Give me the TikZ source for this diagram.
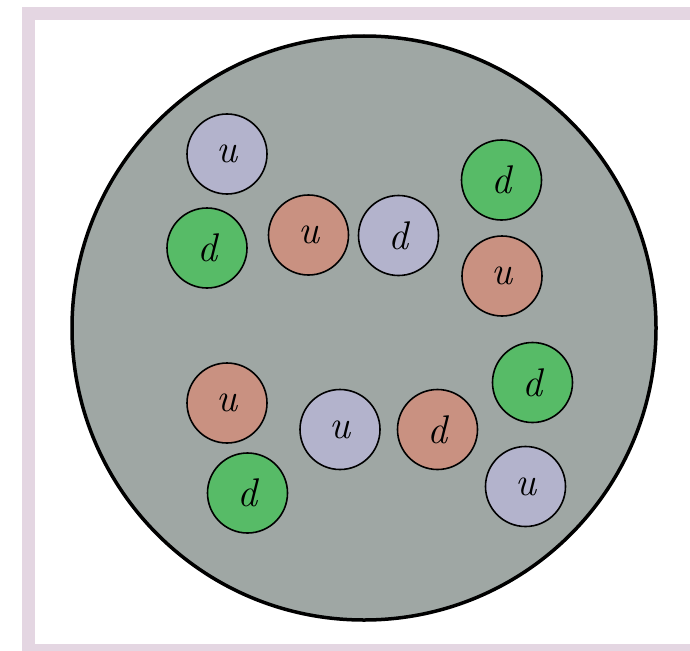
\documentclass[tikz,border=0pt]{standalone}
\usepackage{fontspec}
\definecolor{framepink}{HTML}{E4D6E2}
\definecolor{bggray}{HTML}{9FA7A4}
\definecolor{lav}{HTML}{B3B3CC}
\definecolor{grn}{HTML}{57BB67}
\definecolor{salmon}{HTML}{C99181}
\tikzset{
  quark/.style={circle, draw=black, line width=1.6pt, minimum size=80pt, inner sep=0pt,
    font=\fontsize{40}{40}\selectfont\itshape},
  qlav/.style={quark, fill=lav},
  qgrn/.style={quark, fill=grn},
  qred/.style={quark, fill=salmon},
}
\begin{document}
\begin{tikzpicture}[x=1pt,y=-1pt]
\useasboundingbox (0,0) rectangle (690,650);
\draw[framepink, line width=13pt] (28.5,13.5) rectangle (710,650.5);
\node[circle, draw=black, line width=3.5pt, fill=bggray, minimum size=584pt, inner sep=0pt] (nucleus) at (364,328) {};
\node[qlav] (q1) at (227,154) {u};
\node[qgrn] (q2) at (207,248) {d};
\node[qred] (q3) at (308.5,235) {u};
\node[qlav] (q4) at (398.5,235.5) {d};
\node[qgrn] (q5) at (501.5,180) {d};
\node[qred] (q6) at (502,276) {u};
\node[qred] (q7) at (227,403) {u};
\node[qgrn] (q8) at (247.5,493) {d};
\node[qlav] (q9) at (340,429.5) {u};
\node[qred] (q10) at (437.5,429.5) {d};
\node[qgrn] (q11) at (532.5,382.5) {d};
\node[qlav] (q12) at (525.5,486.5) {u};
\end{tikzpicture}
\end{document}
